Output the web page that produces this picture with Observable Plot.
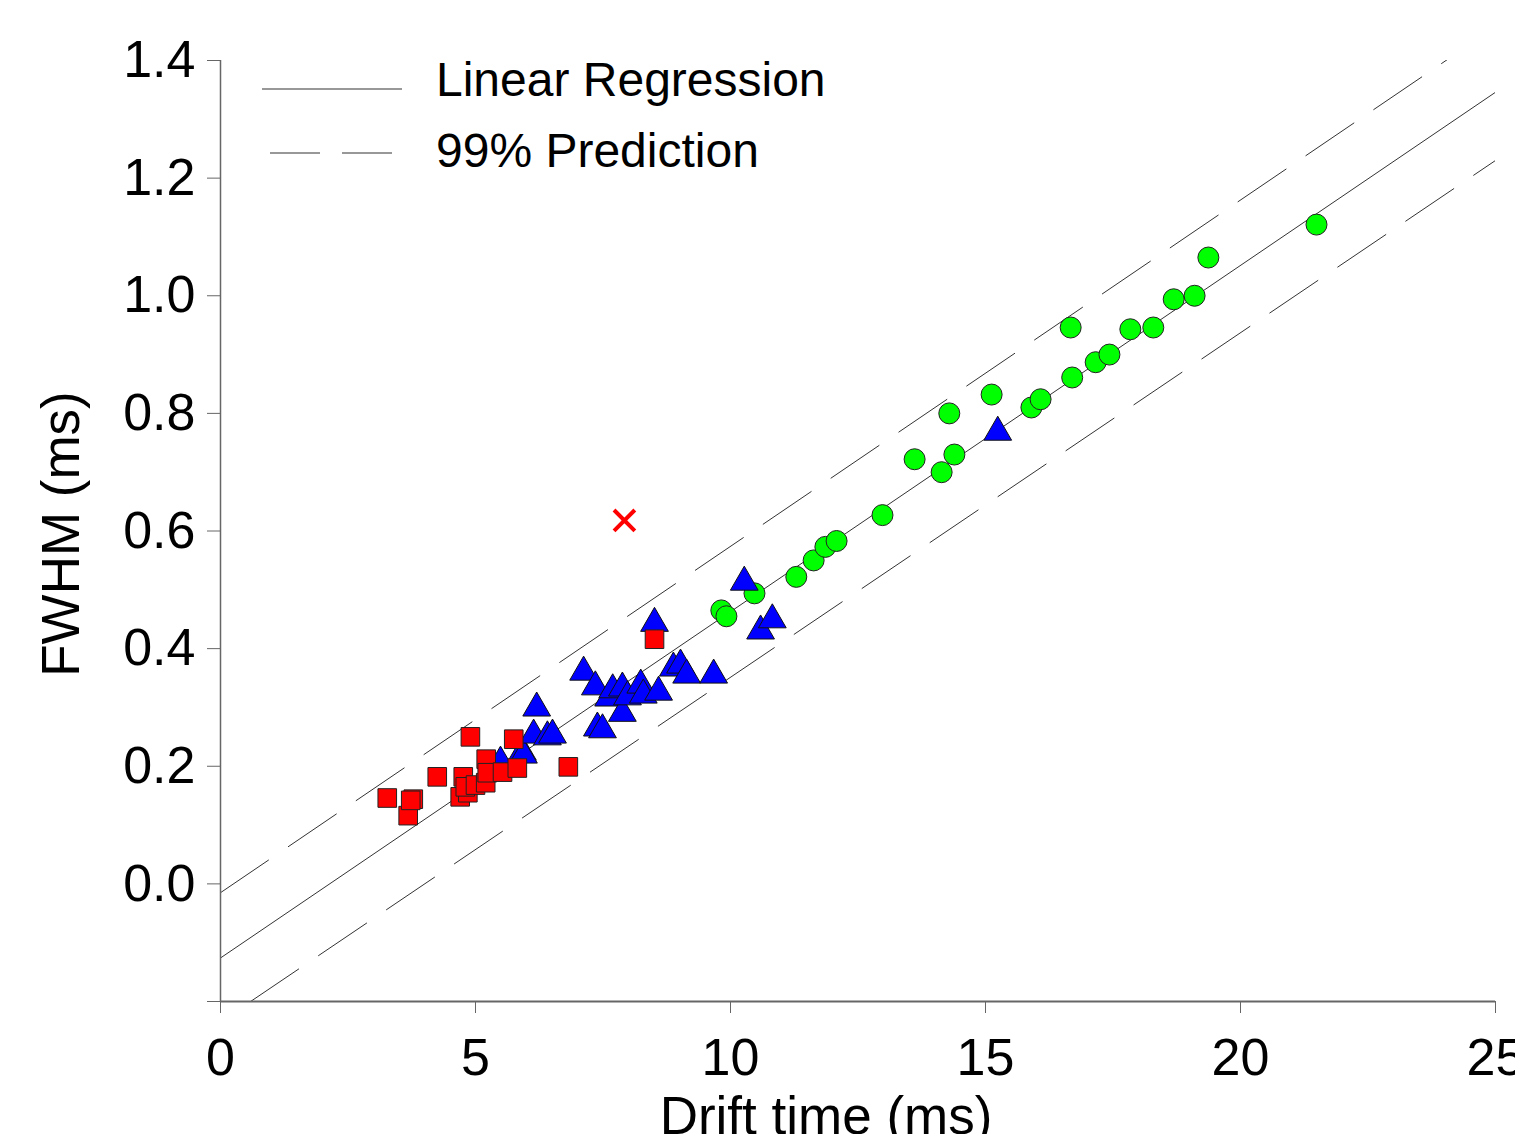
<!DOCTYPE html>
<html><head><meta charset="utf-8">
<script src="https://cdn.jsdelivr.net/npm/d3@7"></script>
<script src="https://cdn.jsdelivr.net/npm/@observablehq/plot@0.6"></script>
<style>
body{margin:0;background:#fff;font-family:"Liberation Sans",Arial,sans-serif;}
#wrap{position:relative;width:1515px;height:1134px;overflow:hidden;background:#fff}
#legend{position:absolute;left:0;top:0;width:900px;height:200px}
.lg{position:absolute;font-size:48px;color:#000;white-space:nowrap;line-height:1}
</style></head><body><div id="wrap"></div>
<script>
// Red squares
const sqX = [3.27, 3.68, 3.78, 3.73, 4.25, 4.90, 4.70, 4.85, 4.76, 4.80, 5.00, 5.20, 5.21, 5.23, 5.53, 5.75, 5.82, 6.82, 8.51];
const sqY = [0.146, 0.116, 0.144, 0.142, 0.182, 0.250, 0.148, 0.155, 0.182, 0.165, 0.168, 0.172, 0.212, 0.189, 0.190, 0.246, 0.197, 0.199, 0.416];
// Blue triangles
const triX = [5.49, 5.92, 5.94, 6.14, 6.20, 6.41, 6.51, 7.12, 7.35, 7.39, 7.49, 7.61, 7.69, 7.88, 7.88, 7.98, 8.24, 8.29, 8.51, 8.59, 8.88, 9.02, 9.14, 9.67, 10.27, 10.59, 10.82, 15.24];
const triY = [0.207, 0.224, 0.219, 0.253, 0.299, 0.250, 0.253, 0.360, 0.335, 0.265, 0.262, 0.316, 0.330, 0.333, 0.290, 0.318, 0.338, 0.321, 0.443, 0.326, 0.367, 0.372, 0.355, 0.355, 0.513, 0.430, 0.449, 0.768];
// Green circles
const cirX = [9.82, 9.92, 10.47, 11.29, 11.63, 11.86, 12.08, 12.98, 13.61, 14.14, 14.29, 14.39, 15.12, 15.90, 16.08, 16.67, 16.70, 17.16, 17.43, 17.84, 18.29, 18.69, 19.10, 19.37, 21.49];
const cirY = [0.465, 0.455, 0.494, 0.522, 0.550, 0.573, 0.583, 0.627, 0.722, 0.700, 0.800, 0.730, 0.832, 0.810, 0.824, 0.946, 0.861, 0.887, 0.900, 0.943, 0.946, 0.994, 1.000, 1.065, 1.121];
// Outlier (red cross)
const outX = [7.92];
const outY = [0.618];
// Regression and 99% prediction lines (endpoints)
const regX = [0, 25];
const regY = [-0.126, 1.346];
const upX = [0, 24.08];
const upY = [-0.015, 1.403];
const loX = [0.59, 25];
const loY = [-0.2, 1.23];
// Ticks
const xTicks = [0, 5, 10, 15, 20, 25];
const yTicks = [-0.2, 0, 0.2, 0.4, 0.6, 0.8, 1.0, 1.2, 1.4];
const legendLabels = ["Linear Regression", "99% Prediction"];
const xTitle = "Drift time (ms)";
const yTitle = "FWHM (ms)";

const zip = (xs, ys) => xs.map((x, i) => ({x, y: ys[i]}));
const squares = zip(sqX, sqY), tris = zip(triX, triY), circles = zip(cirX, cirY), outl = zip(outX, outY);
const reg = zip(regX, regY), up = zip(upX, upY), lo = zip(loX, loY);

const axisColor = "#666";
const chart = Plot.plot({
  width: 1515, height: 1134,
  marginLeft: 220, marginRight: 20, marginTop: 60, marginBottom: 133,
  style: {fontFamily: '"Liberation Sans", Arial, sans-serif', fontSize: "52px", color: "#000", background: "#fff"},
  x: {domain: [0, 25]},
  y: {domain: [-0.2, 1.4]},
  marks: [
    Plot.line(reg, {x: "x", y: "y", stroke: "#333", strokeWidth: 1, clip: true}),
    Plot.line(up, {x: "x", y: "y", stroke: "#333", strokeWidth: 1, strokeDasharray: "58,24", clip: true}),
    Plot.line(lo, {x: "x", y: "y", stroke: "#333", strokeWidth: 1, strokeDasharray: "58,24", clip: true}),
    Plot.dot(circles, {x: "x", y: "y", r: 10.5, fill: "#00ff00", stroke: "#222", strokeWidth: 1, symbol: "circle"}),
    Plot.dot(tris, {x: "x", y: "y", r: 10.3, fill: "#0000ff", stroke: "#111", strokeWidth: 1, symbol: "triangle"}),
    Plot.dot(squares, {x: "x", y: "y", r: 10.5, fill: "#ff0000", stroke: "#222", strokeWidth: 1, symbol: "square"}),
    Plot.dot(outl, {x: "x", y: "y", r: 9.5, stroke: "#ff0000", strokeWidth: 4, symbol: "times"}),
    Plot.ruleX([0], {y1: -0.2, y2: 1.4, stroke: axisColor, strokeWidth: 1.5}),
    Plot.ruleY([-0.2], {x1: 0, x2: 25, stroke: axisColor, strokeWidth: 2}),
    Plot.axisY(yTicks, {tickSize: 13, tickPadding: 12, stroke: axisColor, fontSize: 52,
      tickFormat: d => d < -0.1 ? "" : d.toFixed(1), label: null}),
    Plot.axisX(xTicks, {tickSize: 12, tickPadding: 25, stroke: axisColor, fontSize: 52,
      tickFormat: d => String(d), label: null}),
    Plot.text([xTitle], {frameAnchor: "bottom", textAnchor: "middle", dx: -32, dy: 95, fontSize: 53, lineAnchor: "top", fill: "#000"}),
    Plot.text([yTitle], {frameAnchor: "left", textAnchor: "middle", dx: -158, dy: 3, rotate: -90, fontSize: 53, fill: "#000"})
  ]
});
const wrap = document.getElementById("wrap");
wrap.appendChild(chart);

// Legend overlay
const lg = document.createElement("div");
lg.id = "legend";
lg.innerHTML = `
<svg width="900" height="200" style="position:absolute;left:0;top:0">
  <line x1="262" x2="402" y1="89" y2="89" stroke="#333" stroke-width="1.2"/>
  <line x1="270" x2="392" y1="153" y2="153" stroke="#333" stroke-width="1.2" stroke-dasharray="50,22"/>
</svg>
<div class="lg" style="left:436px;top:56px">${legendLabels[0]}</div>
<div class="lg" style="left:436px;top:127px">${legendLabels[1]}</div>`;
wrap.appendChild(lg);
</script>
</body></html>
